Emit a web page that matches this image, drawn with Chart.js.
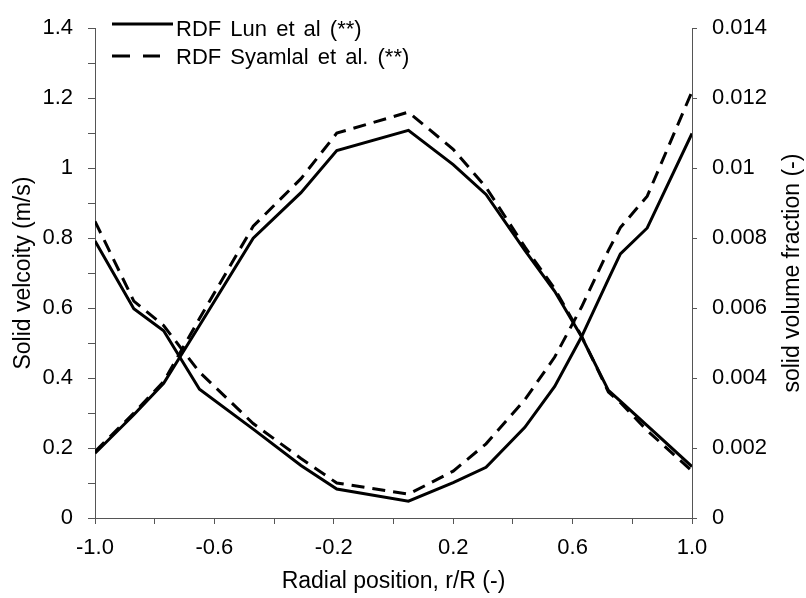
<!DOCTYPE html>
<html>
<head>
<meta charset="utf-8">
<script src="https://cdn.jsdelivr.net/npm/chart.js@4/dist/chart.umd.min.js"></script>
<style>
  html, body { margin: 0; padding: 0; background: #fff; }
  canvas { display: block; }
</style>
</head>
<body>
<canvas id="rdf-chart" width="806" height="598"></canvas>
<script>
// radial positions r/R
const rPos = [-1.0, -0.87, -0.77, -0.65, -0.47, -0.31, -0.19, 0.05, 0.2, 0.31, 0.44, 0.54, 0.63, 0.72, 0.76, 0.85, 1.0];

// solid velocity (m/s), left axis
const velLun = [0.185, 0.295, 0.385, 0.55, 0.80, 0.93, 1.05, 1.108, 1.01, 0.925, 0.765, 0.648, 0.518, 0.365, 0.334, 0.264, 0.147];
const velSyam = [0.19, 0.30, 0.39, 0.57, 0.834, 0.97, 1.10, 1.16, 1.054, 0.945, 0.775, 0.655, 0.52, 0.36, 0.33, 0.25, 0.134];

// solid volume fraction (-), right axis
const volLun = [0.00792, 0.00598, 0.00535, 0.00368, 0.00254, 0.00150, 0.00083, 0.00048, 0.00101, 0.00145, 0.00259, 0.00376, 0.00518, 0.00683, 0.00755, 0.00829, 0.01099];
const volSyam = [0.00848, 0.0062, 0.0055, 0.00417, 0.0027, 0.0017, 0.0010, 0.00068, 0.00134, 0.00212, 0.00338, 0.0046, 0.00603, 0.00765, 0.0083, 0.0092, 0.01219];

const legendLabels = ['RDF Lun et al (**)', 'RDF Syamlal et al. (**)'];
const xTitle = 'Radial position, r/R (-)';
const yTitle = 'Solid velcoity (m/s)';
const y1Title = 'solid volume fraction (-)';

const FONT = '"Liberation Sans", Arial, sans-serif';
const AXIS = '#555';
const DASH = [13, 8];
const TICK_SIZE = 22;
const TITLE_SIZE = 23;

const toPoints = vals => rPos.map((r, i) => ({ x: r, y: vals[i] }));

const lineSet = (vals, axis, dashed) => ({
  data: toPoints(vals),
  yAxisID: axis,
  borderColor: '#000',
  borderWidth: 3,
  borderDash: dashed ? DASH : [],
  pointRadius: 0,
  tension: 0,
  fill: false,
});

// white background, right axis title (reads bottom to top) and legend
const extras = {
  id: 'extras',
  beforeDraw(chart) {
    const c = chart.ctx;
    c.save();
    c.fillStyle = '#fff';
    c.fillRect(0, 0, chart.width, chart.height);
    c.restore();
  },
  afterDraw(chart) {
    const c = chart.ctx;
    const area = chart.chartArea;
    c.save();
    c.fillStyle = '#000';
    c.font = TITLE_SIZE + 'px ' + FONT;
    c.textAlign = 'center';
    c.textBaseline = 'middle';
    c.translate(793, (area.top + area.bottom) / 2);
    c.rotate(-Math.PI / 2);
    c.fillText(y1Title, 0, 0);
    c.restore();

    c.save();
    c.strokeStyle = '#000';
    c.lineWidth = 3;
    c.beginPath();
    c.moveTo(112, 24);
    c.lineTo(173, 24);
    c.stroke();
    c.setLineDash([18, 13]);
    c.beginPath();
    c.moveTo(112, 56);
    c.lineTo(160, 56);
    c.stroke();
    c.fillStyle = '#000';
    c.font = '22px ' + FONT;
    c.textAlign = 'left';
    c.textBaseline = 'alphabetic';
    if ('wordSpacing' in c) c.wordSpacing = '3px';
    c.fillText(legendLabels[0], 176, 36);
    c.fillText(legendLabels[1], 176, 64);
    c.restore();
  },
};

const canvas = document.getElementById('rdf-chart');
const ctx = canvas.getContext('2d');

new Chart(ctx, {
  type: 'line',
  data: {
    datasets: [
      lineSet(velLun, 'y', false),
      lineSet(velSyam, 'y', true),
      lineSet(volLun, 'y1', false),
      lineSet(volSyam, 'y1', true),
    ],
  },
  options: {
    responsive: false,
    animation: false,
    layout: { padding: { top: 15, left: 0, right: 0, bottom: 0 } },
    plugins: {
      legend: { display: false },
      tooltip: { enabled: false },
    },
    scales: {
      x: {
        type: 'linear',
        min: -1,
        max: 1,
        border: { color: AXIS, width: 1 },
        grid: { drawOnChartArea: false, color: AXIS, tickLength: 6 },
        ticks: {
          stepSize: 0.2,
          autoSkip: false,
          maxRotation: 0,
          padding: 11,
          color: '#000',
          font: { family: FONT, size: TICK_SIZE },
          callback: v => (Math.round((v + 1) * 10) % 4 === 0 ? v.toFixed(1) : ''),
        },
        title: {
          display: true,
          text: xTitle,
          color: '#000',
          font: { family: FONT, size: TITLE_SIZE },
          padding: { top: 0, bottom: 3 },
        },
        afterFit: s => { s.height = 80; },
      },
      y: {
        position: 'left',
        min: 0,
        max: 1.4,
        border: { color: AXIS, width: 1 },
        grid: { drawOnChartArea: false, color: AXIS, tickLength: 7 },
        ticks: {
          stepSize: 0.1,
          autoSkip: false,
          padding: 15,
          color: '#000',
          font: { family: FONT, size: TICK_SIZE },
          callback: v => (Math.round(v * 10) % 2 === 0 ? String(Number(v.toFixed(1))) : ''),
        },
        title: {
          display: true,
          text: yTitle,
          color: '#000',
          font: { family: FONT, size: TITLE_SIZE },
          padding: { top: 10, bottom: 0 },
        },
        afterFit: s => { s.width = 95; },
      },
      y1: {
        position: 'right',
        min: 0,
        max: 0.014,
        border: { color: AXIS, width: 1 },
        grid: { drawOnChartArea: false, color: AXIS, tickLength: 5 },
        ticks: {
          stepSize: 0.002,
          autoSkip: false,
          padding: 15,
          color: '#000',
          font: { family: FONT, size: TICK_SIZE },
          callback: v => String(Number(v.toFixed(3))),
        },
        afterFit: s => { s.width = 114; },
      },
    },
  },
  plugins: [extras],
});
</script>
</body>
</html>
